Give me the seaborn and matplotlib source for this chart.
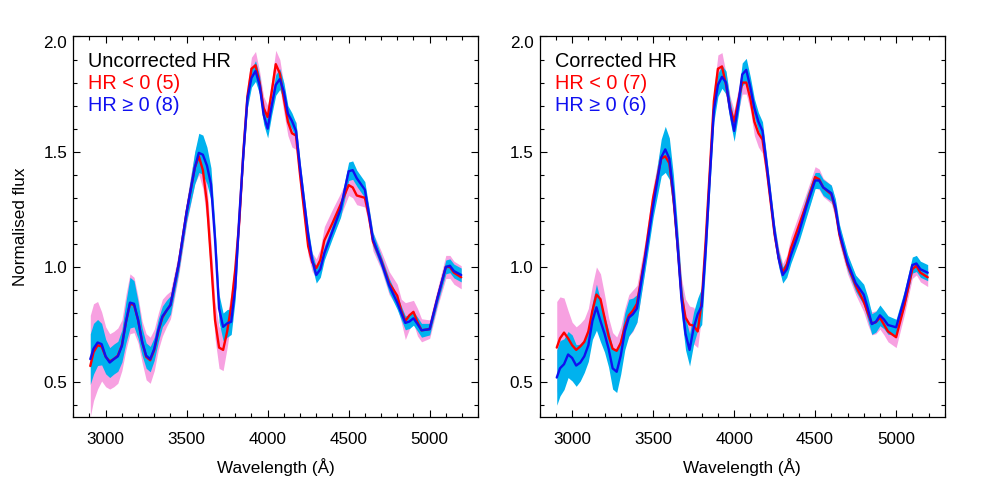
import matplotlib
matplotlib.use('Agg')
import matplotlib.pyplot as plt
import seaborn as sns
from matplotlib.ticker import MultipleLocator

# wavelength grid (Angstrom), shared by all curves
wl = [2905, 2925, 2950, 2975, 3000, 3025, 3050, 3075, 3100, 3125,
      3150, 3175, 3200, 3225, 3250, 3275, 3300, 3325, 3350, 3375,
      3400, 3450, 3500, 3550, 3575, 3600, 3625, 3650, 3675, 3700,
      3725, 3750, 3775, 3800, 3825, 3850, 3875, 3900, 3925, 3950,
      3975, 4000, 4025, 4050, 4075, 4100, 4125, 4150, 4175, 4200,
      4250, 4275, 4300, 4325, 4350, 4400, 4450, 4500, 4525, 4550,
      4600, 4625, 4650, 4700, 4750, 4800, 4825, 4850, 4875, 4900,
      4925, 4950, 5000, 5050, 5100, 5125, 5150, 5195]

# uncorrected HR, HR < 0 (red) and HR >= 0 (blue), with band half widths
unc_neg = [0.570, 0.630, 0.660, 0.655, 0.610, 0.590, 0.600, 0.615, 0.660, 0.760,
           0.840, 0.835, 0.770, 0.675, 0.610, 0.595, 0.640, 0.720, 0.780, 0.810,
           0.835, 1.010, 1.240, 1.430, 1.480, 1.420, 1.280, 1.030, 0.770, 0.650,
           0.640, 0.720, 0.830, 0.990, 1.200, 1.500, 1.740, 1.860, 1.875, 1.800,
           1.690, 1.650, 1.760, 1.880, 1.840, 1.730, 1.630, 1.580, 1.570, 1.400,
           1.090, 1.020, 0.995, 1.030, 1.115, 1.190, 1.270, 1.355, 1.345, 1.310,
           1.300, 1.220, 1.110, 1.030, 0.930, 0.875, 0.810, 0.765, 0.790, 0.805,
           0.760, 0.725, 0.730, 0.870, 1.000, 1.000, 0.975, 0.955]
unc_neg_err = [0.220, 0.210, 0.190, 0.150, 0.130, 0.120, 0.120, 0.120, 0.110, 0.120,
               0.130, 0.120, 0.100, 0.090, 0.100, 0.100, 0.090, 0.080, 0.080, 0.070,
               0.060, 0.050, 0.050, 0.070, 0.080, 0.080, 0.080, 0.080, 0.080, 0.090,
               0.090, 0.070, 0.060, 0.050, 0.050, 0.050, 0.050, 0.050, 0.060, 0.050,
               0.050, 0.050, 0.050, 0.060, 0.060, 0.060, 0.060, 0.060, 0.060, 0.050,
               0.040, 0.040, 0.040, 0.050, 0.060, 0.060, 0.050, 0.045, 0.045, 0.040,
               0.040, 0.040, 0.040, 0.040, 0.050, 0.050, 0.050, 0.080, 0.060, 0.050,
               0.060, 0.050, 0.040, 0.040, 0.050, 0.050, 0.050, 0.050]
unc_pos = [0.600, 0.645, 0.672, 0.665, 0.611, 0.585, 0.600, 0.612, 0.657, 0.760,
           0.845, 0.840, 0.770, 0.675, 0.615, 0.600, 0.645, 0.725, 0.785, 0.810,
           0.835, 1.010, 1.240, 1.430, 1.495, 1.487, 1.440, 1.360, 1.120, 0.820,
           0.740, 0.755, 0.762, 0.910, 1.220, 1.490, 1.730, 1.820, 1.850, 1.790,
           1.660, 1.600, 1.700, 1.790, 1.815, 1.760, 1.665, 1.633, 1.590, 1.430,
           1.140, 1.030, 0.965, 0.990, 1.060, 1.155, 1.250, 1.415, 1.420, 1.385,
           1.335, 1.230, 1.120, 1.025, 0.920, 0.845, 0.800, 0.757, 0.763, 0.777,
           0.752, 0.725, 0.730, 0.870, 1.000, 1.005, 0.982, 0.965]
unc_pos_err = [0.110, 0.110, 0.100, 0.090, 0.075, 0.065, 0.065, 0.065, 0.070, 0.090,
               0.110, 0.100, 0.080, 0.060, 0.055, 0.055, 0.050, 0.050, 0.045, 0.045,
               0.040, 0.035, 0.040, 0.070, 0.085, 0.085, 0.080, 0.070, 0.060, 0.060,
               0.060, 0.060, 0.055, 0.050, 0.040, 0.040, 0.040, 0.040, 0.045, 0.040,
               0.040, 0.040, 0.040, 0.045, 0.045, 0.040, 0.035, 0.035, 0.035, 0.030,
               0.030, 0.030, 0.035, 0.035, 0.030, 0.030, 0.035, 0.040, 0.040, 0.035,
               0.035, 0.030, 0.030, 0.025, 0.030, 0.030, 0.030, 0.030, 0.030, 0.030,
               0.030, 0.030, 0.025, 0.025, 0.030, 0.030, 0.030, 0.030]

# corrected HR
cor_neg = [0.650, 0.690, 0.715, 0.690, 0.660, 0.640, 0.655, 0.675, 0.720, 0.810,
           0.880, 0.860, 0.780, 0.700, 0.645, 0.636, 0.670, 0.740, 0.790, 0.810,
           0.840, 1.050, 1.300, 1.470, 1.480, 1.450, 1.300, 1.100, 0.880, 0.780,
           0.750, 0.745, 0.720, 0.850, 1.120, 1.420, 1.720, 1.860, 1.870, 1.790,
           1.690, 1.630, 1.720, 1.800, 1.800, 1.730, 1.630, 1.580, 1.553, 1.430,
           1.140, 1.040, 0.975, 1.010, 1.080, 1.180, 1.280, 1.390, 1.380, 1.345,
           1.315, 1.250, 1.140, 1.010, 0.920, 0.850, 0.800, 0.755, 0.760, 0.780,
           0.750, 0.720, 0.695, 0.830, 0.990, 1.005, 0.975, 0.955]
cor_neg_err = [0.200, 0.180, 0.150, 0.120, 0.100, 0.100, 0.100, 0.100, 0.100, 0.110,
               0.120, 0.110, 0.100, 0.080, 0.070, 0.060, 0.070, 0.080, 0.090, 0.090,
               0.080, 0.060, 0.050, 0.060, 0.060, 0.060, 0.060, 0.060, 0.070, 0.080,
               0.080, 0.080, 0.070, 0.060, 0.050, 0.050, 0.050, 0.060, 0.060, 0.050,
               0.050, 0.050, 0.050, 0.050, 0.050, 0.050, 0.060, 0.060, 0.060, 0.050,
               0.040, 0.040, 0.040, 0.040, 0.050, 0.050, 0.050, 0.045, 0.045, 0.040,
               0.040, 0.040, 0.040, 0.040, 0.040, 0.045, 0.050, 0.050, 0.050, 0.050,
               0.045, 0.045, 0.045, 0.040, 0.040, 0.040, 0.040, 0.040]
cor_pos = [0.520, 0.560, 0.578, 0.620, 0.605, 0.572, 0.585, 0.612, 0.660, 0.765,
           0.825, 0.765, 0.710, 0.645, 0.560, 0.545, 0.615, 0.720, 0.780, 0.795,
           0.820, 1.035, 1.265, 1.475, 1.510, 1.470, 1.320, 1.100, 0.860, 0.710,
           0.640, 0.735, 0.795, 0.830, 1.080, 1.390, 1.680, 1.790, 1.825, 1.800,
           1.680, 1.590, 1.700, 1.835, 1.855, 1.780, 1.690, 1.630, 1.590, 1.450,
           1.150, 1.035, 0.965, 0.990, 1.050, 1.150, 1.270, 1.375, 1.375, 1.345,
           1.320, 1.260, 1.150, 1.020, 0.930, 0.880, 0.820, 0.752, 0.762, 0.790,
           0.772, 0.748, 0.738, 0.860, 1.008, 1.015, 0.990, 0.975]
cor_pos_err = [0.120, 0.120, 0.110, 0.100, 0.100, 0.090, 0.080, 0.070, 0.070, 0.080,
               0.100, 0.090, 0.080, 0.080, 0.090, 0.090, 0.080, 0.080, 0.080, 0.070,
               0.060, 0.050, 0.050, 0.080, 0.100, 0.090, 0.080, 0.080, 0.070, 0.070,
               0.070, 0.070, 0.070, 0.080, 0.060, 0.050, 0.050, 0.050, 0.050, 0.050,
               0.045, 0.045, 0.045, 0.050, 0.050, 0.045, 0.040, 0.040, 0.040, 0.035,
               0.035, 0.035, 0.035, 0.035, 0.035, 0.040, 0.045, 0.035, 0.035, 0.035,
               0.035, 0.035, 0.035, 0.035, 0.035, 0.045, 0.050, 0.045, 0.045, 0.045,
               0.040, 0.040, 0.035, 0.035, 0.035, 0.035, 0.035, 0.035]

titles = ['Uncorrected HR', 'Corrected HR']
counts = [(5, 8), (7, 6)]

sns.set_style('ticks')
plt.rcParams['font.family'] = ['Liberation Sans', 'DejaVu Sans']
plt.rcParams['axes.labelcolor'] = 'black'
plt.rcParams['text.color'] = 'black'

fig = plt.figure(figsize=(9.81, 4.91), dpi=100)
ax1 = fig.add_axes([0.0747, 0.1513, 0.4128, 0.7744])
ax2 = fig.add_axes([0.5502, 0.1513, 0.4128, 0.7744])

panels = [(ax1, unc_neg, unc_neg_err, unc_pos, unc_pos_err),
          (ax2, cor_neg, cor_neg_err, cor_pos, cor_pos_err)]

for i, (ax, neg, neg_err, pos, pos_err) in enumerate(panels):
    # pink band, red line, cyan band, blue line (in that order)
    ax.fill_between(wl, [m - e for m, e in zip(neg, neg_err)],
                    [m + e for m, e in zip(neg, neg_err)],
                    color='#F7A1E1', lw=0)
    sns.lineplot(x=wl, y=neg, ax=ax, color='#FF0000', lw=1.7, sort=False)
    ax.fill_between(wl, [m - e for m, e in zip(pos, pos_err)],
                    [m + e for m, e in zip(pos, pos_err)],
                    color='#00B2EE', lw=0)
    sns.lineplot(x=wl, y=pos, ax=ax, color='#1010F0', lw=1.7, sort=False)

    ax.set_xlim(2800, 5300)
    ax.set_ylim(0.35, 2.0)
    ax.set_xticks([3000, 3500, 4000, 4500, 5000])
    ax.set_yticks([0.5, 1.0, 1.5, 2.0])
    ax.xaxis.set_minor_locator(MultipleLocator(100))
    ax.yaxis.set_minor_locator(MultipleLocator(0.1))
    ax.tick_params(which='both', direction='in', top=True, right=True,
                   width=0.8, labelsize=12.3, colors='black')
    ax.tick_params(which='major', length=5)
    ax.tick_params(which='minor', length=3)
    ax.tick_params(axis='x', pad=11)
    ax.tick_params(axis='y', pad=4.5)
    # top label sits below its tick, inside the frame height
    ax.yaxis.get_major_ticks()[3].label1.set_verticalalignment('top')
    for sp in ax.spines.values():
        sp.set_linewidth(0.9)
        sp.set_color('black')

    ax.set_xlabel('Wavelength (Å)', fontsize=12.3, color='black')
    ax.xaxis.set_label_coords(0.5, -0.11)

    ax.text(0.037, 0.935, titles[i], transform=ax.transAxes,
            fontsize=14.3, color='black', va='center')
    ax.text(0.037, 0.877, 'HR < 0 (%d)' % counts[i][0], transform=ax.transAxes,
            fontsize=14.3, color='#FF0000', va='center')
    ax.text(0.037, 0.819, 'HR \u2265 0 (%d)' % counts[i][1], transform=ax.transAxes,
            fontsize=14.3, color='#1010F0', va='center')

ax1.set_ylabel('Normalised flux', fontsize=12.3, color='black')
ax1.yaxis.set_label_coords(-0.113, 0.5)

fig.savefig('out.png', dpi=100)
